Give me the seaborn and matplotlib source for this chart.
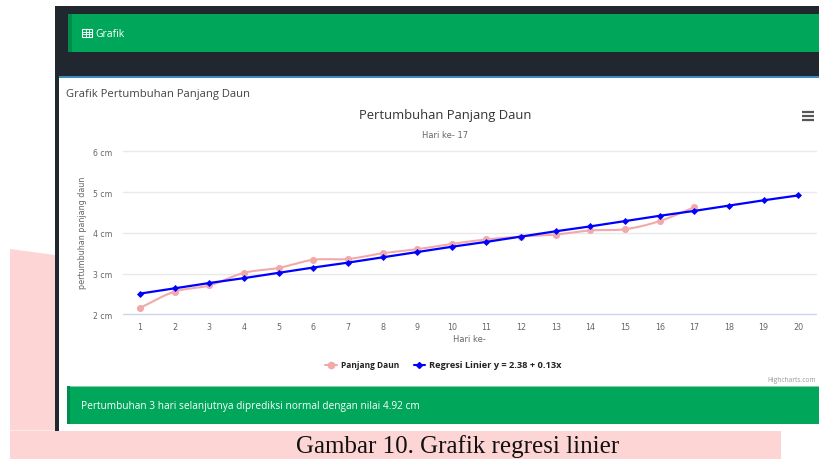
import numpy as np
import pandas as pd
import seaborn as sns
import matplotlib
matplotlib.use("Agg")
import matplotlib.pyplot as plt
from matplotlib.patches import Rectangle, Polygon
from matplotlib.lines import Line2D

sns.set_theme(style="white")
plt.rcParams['font.family'] = ['Open Sans', 'DejaVu Sans']

days = list(range(1, 21))
panjang_daun = [2.16, 2.56, 2.71, 3.02, 3.14, 3.34, 3.36, 3.50, 3.60, 3.73,
                3.84, 3.91, 3.96, 4.06, 4.09, 4.29, 4.63]
regresi = [2.51, 2.64, 2.77, 2.89, 3.02, 3.15, 3.27, 3.40, 3.53, 3.66,
           3.78, 3.91, 4.04, 4.16, 4.29, 4.42, 4.54, 4.67, 4.80, 4.92]
y_ticks = [2, 3, 4, 5, 6]
title = "Pertumbuhan Panjang Daun"
subtitle = "Hari ke- 17"
pink_c = "#f2a9a9"
blue_c = "#0000ff"
green = "#00a65a"
dark = "#20272e"
W, H = 820, 460

fig = plt.figure(figsize=(8.2, 4.6), dpi=100, facecolor="white")
bg = fig.add_axes([0, 0, 1, 1], zorder=0)
bg.set_xlim(0, W); bg.set_ylim(H, 0); bg.axis("off")
def box(x0, y0, x1, y1, c, z=1):
    bg.add_patch(Rectangle((x0, y0), x1 - x0, y1 - y0, fc=c, ec="none", zorder=z))
bg.add_patch(Polygon([(10, 250), (55, 256), (55, 431.5), (10, 431.5)], fc="#fdd5d5", ec="none", zorder=1))
box(10, 431.5, 781, 460, "#fdd5d5", 1)
box(55, 6.5, 820, 431.5, dark, 2)
box(59, 78.5, 820, 431.5, "white", 3)
box(59, 76.5, 820, 78.5, "#3c8dbc", 3)
box(68, 15, 820, 53, green, 3)
box(68, 15, 72, 53, "#008d4c", 4)
box(67, 386.5, 820, 424.5, green, 3)
box(67, 386.5, 820, 387.5, "#7fd2ac", 4)
box(67, 386.5, 70, 424.5, "#008d4c", 4)
# table icon
bg.add_patch(Rectangle((82.5, 30), 10, 8, fc="none", ec="white", lw=0.8, zorder=5))
for xx in (85.8, 89.2):
    bg.plot([xx, xx], [30, 38], color="white", lw=0.6, zorder=5)
for yy in (32.7, 35.3):
    bg.plot([82.5, 92.5], [yy, yy], color="white", lw=0.6, zorder=5)
bg.text(95, 34.5, "Grafik", color="white", fontsize=7.5, va="center", zorder=5)
bg.text(66.5, 94.5, "Grafik Pertumbuhan Panjang Daun", color="#444444", fontsize=8.15, va="center", zorder=5)
bg.text(445, 115, title, color="#333333", fontsize=9.4, ha="center", va="center", zorder=5)
bg.text(445, 135.5, subtitle, color="#666666", fontsize=6, ha="center", va="center", zorder=5, family="DejaVu Sans")
for yy in (113, 117, 121):
    bg.plot([802, 814], [yy, yy], color="#555555", lw=1.6, zorder=5, solid_capstyle="butt")
bg.text(469, 340, "Hari ke-", color="#666666", fontsize=6, ha="center", va="center", zorder=5, family="DejaVu Sans")
bg.text(83, 233, "pertumbuhan panjang daun", color="#666666", fontsize=5.8, rotation=90,
        ha="center", va="center", zorder=5, family="DejaVu Sans")
bg.text(816, 381, "Highcharts.com", color="#999999", fontsize=4.8, ha="right", va="center", zorder=5)
bg.text(81, 406.5, "Pertumbuhan 3 hari selanjutnya diprediksi normal dengan nilai 4.92 cm",
        color="white", fontsize=7.3, va="center", zorder=5)
bg.text(458, 447, "Gambar 10. Grafik regresi linier", color="#111111", fontsize=18,
        family="Liberation Serif", ha="center", va="center", zorder=5)

# legend
bg.add_line(Line2D([325, 331, 337], [366, 366, 366], color=pink_c, lw=1.5, marker="o", ms=4.5,
                   markevery=[1], zorder=5))
bg.text(341, 366, "Panjang Daun", color="#222222", fontsize=6, weight="bold", va="center", zorder=5)
bg.add_line(Line2D([414, 419.5, 425], [366, 366, 366], color=blue_c, lw=1.5, marker="D", ms=3,
                   markevery=[1], zorder=5))
bg.text(429, 366, "Regresi Linier y = 2.38 + 0.13x", color="#222222", fontsize=6.7, weight="bold", va="center", zorder=5)

# chart area
x0, x1, y_top, y_bot = 122.7, 815.6, 152.4, 315.4
ax = fig.add_axes([x0 / W, 1 - y_bot / H, (x1 - x0) / W, (y_bot - y_top) / H], zorder=1)
ax.patch.set_alpha(0)
ax.set_xlim(0.5, 20.5); ax.set_ylim(2, 6)
for s in ax.spines.values():
    s.set_visible(False)
for v in y_ticks:
    ax.axhline(v, color="#ccd6eb" if v == 2 else "#e9e9ec", lw=1, zorder=1, clip_on=False)

def spline(xs, ys, n=16):
    """Catmull-Rom smoothing of the series, like the spline type of the source."""
    xs = np.asarray(xs, float); ys = np.asarray(ys, float)
    m = np.gradient(ys, xs)
    t = np.linspace(0, 1, n, endpoint=False)
    out_x, out_y = [], []
    for i in range(len(xs) - 1):
        h00 = 2*t**3 - 3*t**2 + 1; h10 = t**3 - 2*t**2 + t
        h01 = -2*t**3 + 3*t**2; h11 = t**3 - t**2
        out_x.append(xs[i] + t)
        out_y.append(h00*ys[i] + h10*m[i] + h01*ys[i+1] + h11*m[i+1])
    return np.r_[np.concatenate(out_x), xs[-1]], np.r_[np.concatenate(out_y), ys[-1]]

pink_df = pd.DataFrame({"hari": days[:len(panjang_daun)], "nilai": panjang_daun})
blue_df = pd.DataFrame({"hari": days, "nilai": regresi})
sx, sy = spline(pink_df.hari, pink_df.nilai)
sns.lineplot(x=sx, y=sy, color=pink_c, lw=1.5, ax=ax, zorder=3, errorbar=None)
sns.scatterplot(data=pink_df, x="hari", y="nilai", color=pink_c, s=26, linewidth=0, ax=ax, zorder=4, clip_on=False)
sns.lineplot(data=blue_df, x="hari", y="nilai", color=blue_c, lw=1.6, ax=ax, zorder=5, errorbar=None)
sns.scatterplot(data=blue_df, x="hari", y="nilai", color=blue_c, marker="D", s=13, linewidth=0, ax=ax, zorder=6)

ax.set_xticks(days)
ax.set_xticklabels([str(d) for d in days], color="#666666", fontsize=5.8, family="DejaVu Sans")
ax.set_yticks(y_ticks)
ax.set_yticklabels([f"{v} cm" for v in y_ticks], color="#666666", fontsize=5.6, ha="right", family="DejaVu Sans")
ax.tick_params(axis="x", length=0, pad=5.5)
ax.tick_params(axis="y", length=0, pad=7.5)
ax.set_xlabel(""); ax.set_ylabel("")

fig.savefig("out.png", dpi=100)
